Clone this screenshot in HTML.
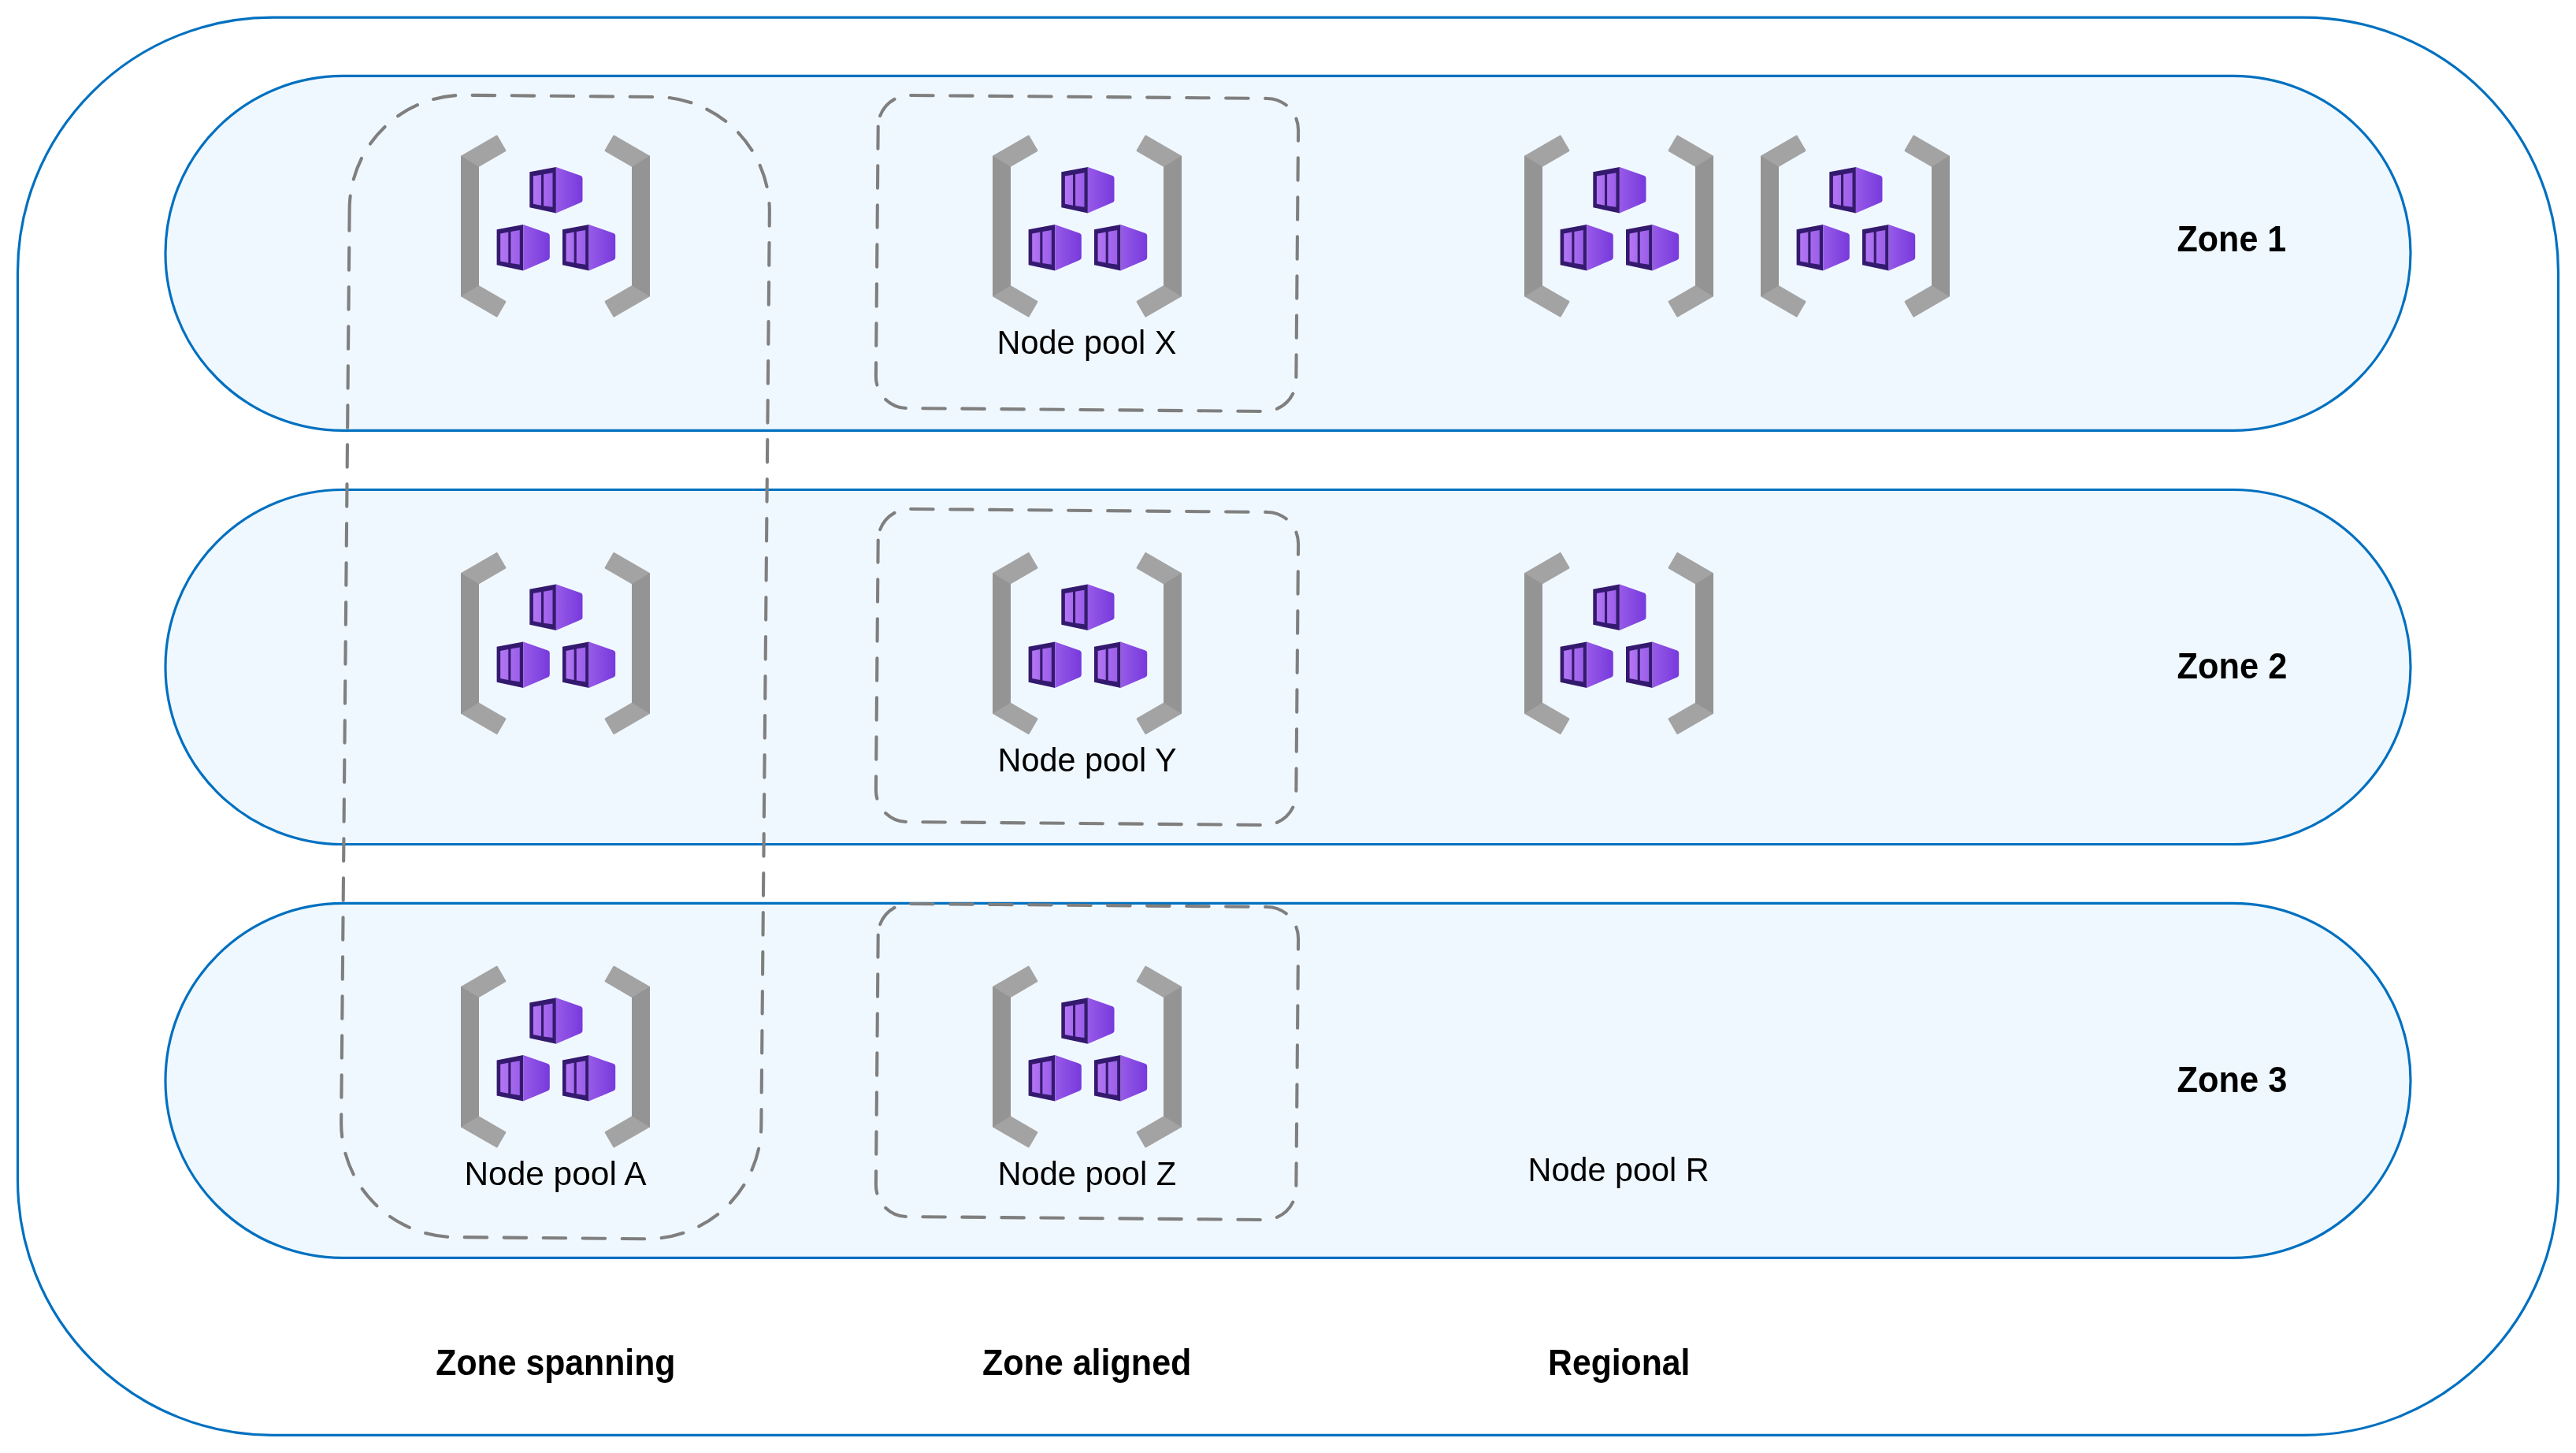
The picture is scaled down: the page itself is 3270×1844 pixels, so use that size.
<!DOCTYPE html><html><head><meta charset="utf-8"><title>AKS node pools</title><style>html,body{margin:0;padding:0;background:#fff;width:3270px;height:1844px;overflow:hidden}svg{display:block}</style></head><body><svg width="3270" height="1844" viewBox="0 0 3270 1844"><defs><linearGradient id="cg" gradientUnits="userSpaceOnUse" x1="-33.6" y1="0" x2="33.6" y2="0"><stop offset="0" stop-color="#B77AF4"/><stop offset="1" stop-color="#773ADC"/></linearGradient></defs><rect x="22.5" y="22.2" width="3225.0" height="1799.1" rx="323" ry="323" fill="#FFFFFF" stroke="#0070C0" stroke-width="3.2"/>
<rect x="210.0" y="96.4" width="2850.0" height="450.0" rx="225.0" ry="225.0" fill="#F0F8FF" stroke="#0070C0" stroke-width="3.2"/>
<rect x="210.0" y="621.5" width="2850.0" height="450.0" rx="225.0" ry="225.0" fill="#F0F8FF" stroke="#0070C0" stroke-width="3.2"/>
<rect x="210.0" y="1146.4" width="2850.0" height="450.0" rx="225.0" ry="225.0" fill="#F0F8FF" stroke="#0070C0" stroke-width="3.2"/>
<path fill="#A3A3A3" d="M585.00,197.80 L629.94,171.85 Q631.07,171.20 631.72,172.33 L642.15,190.37 Q642.80,191.50 641.68,192.15 L608.00,211.70 L608.00,362.30 L641.68,381.85 Q642.80,382.50 642.15,383.63 L631.72,401.67 Q631.07,402.80 629.94,402.15 L585.00,376.20 Z"/>
<polygon fill="#949494" points="585.00,197.80 608.00,211.70 608.00,362.30 585.00,376.20"/>
<path fill="#A3A3A3" d="M825.00,197.80 L780.06,171.85 Q778.93,171.20 778.28,172.33 L767.85,190.37 Q767.20,191.50 768.32,192.15 L802.00,211.70 L802.00,362.30 L768.32,381.85 Q767.20,382.50 767.85,383.63 L778.28,401.67 Q778.93,402.80 780.06,402.15 L825.00,376.20 Z"/>
<polygon fill="#949494" points="825.00,197.80 802.00,211.70 802.00,362.30 825.00,376.20"/>
<g transform="translate(705.90,212.00)"><polygon fill="#341A6E" points="-33.6,6.3 0,0 0,58.5 -33.6,51.3"/><path fill="url(#cg)" d="M0,0 L31.4,11.0 Q33.6,11.8 33.6,14.2 L33.6,41.9 Q33.6,44.2 31.4,45.1 L0,58.5 Z"/><polygon fill="url(#cg)" points="-29.0,11.6 -18.9,9.7 -18.9,48.7 -29.0,46.7"/><polygon fill="url(#cg)" points="-15.8,9.2 -4.4,7.2 -4.4,50.8 -15.8,49.2"/></g>
<g transform="translate(664.20,284.90)"><polygon fill="#341A6E" points="-33.6,6.3 0,0 0,58.5 -33.6,51.3"/><path fill="url(#cg)" d="M0,0 L31.4,11.0 Q33.6,11.8 33.6,14.2 L33.6,41.9 Q33.6,44.2 31.4,45.1 L0,58.5 Z"/><polygon fill="url(#cg)" points="-29.0,11.6 -18.9,9.7 -18.9,48.7 -29.0,46.7"/><polygon fill="url(#cg)" points="-15.8,9.2 -4.4,7.2 -4.4,50.8 -15.8,49.2"/></g>
<g transform="translate(747.60,284.90)"><polygon fill="#341A6E" points="-33.6,6.3 0,0 0,58.5 -33.6,51.3"/><path fill="url(#cg)" d="M0,0 L31.4,11.0 Q33.6,11.8 33.6,14.2 L33.6,41.9 Q33.6,44.2 31.4,45.1 L0,58.5 Z"/><polygon fill="url(#cg)" points="-29.0,11.6 -18.9,9.7 -18.9,48.7 -29.0,46.7"/><polygon fill="url(#cg)" points="-15.8,9.2 -4.4,7.2 -4.4,50.8 -15.8,49.2"/></g>
<path fill="#A3A3A3" d="M1260.00,197.80 L1304.94,171.85 Q1306.07,171.20 1306.72,172.33 L1317.15,190.37 Q1317.80,191.50 1316.68,192.15 L1283.00,211.70 L1283.00,362.30 L1316.68,381.85 Q1317.80,382.50 1317.15,383.63 L1306.72,401.67 Q1306.07,402.80 1304.94,402.15 L1260.00,376.20 Z"/>
<polygon fill="#949494" points="1260.00,197.80 1283.00,211.70 1283.00,362.30 1260.00,376.20"/>
<path fill="#A3A3A3" d="M1500.00,197.80 L1455.06,171.85 Q1453.93,171.20 1453.28,172.33 L1442.85,190.37 Q1442.20,191.50 1443.32,192.15 L1477.00,211.70 L1477.00,362.30 L1443.32,381.85 Q1442.20,382.50 1442.85,383.63 L1453.28,401.67 Q1453.93,402.80 1455.06,402.15 L1500.00,376.20 Z"/>
<polygon fill="#949494" points="1500.00,197.80 1477.00,211.70 1477.00,362.30 1500.00,376.20"/>
<g transform="translate(1380.90,212.00)"><polygon fill="#341A6E" points="-33.6,6.3 0,0 0,58.5 -33.6,51.3"/><path fill="url(#cg)" d="M0,0 L31.4,11.0 Q33.6,11.8 33.6,14.2 L33.6,41.9 Q33.6,44.2 31.4,45.1 L0,58.5 Z"/><polygon fill="url(#cg)" points="-29.0,11.6 -18.9,9.7 -18.9,48.7 -29.0,46.7"/><polygon fill="url(#cg)" points="-15.8,9.2 -4.4,7.2 -4.4,50.8 -15.8,49.2"/></g>
<g transform="translate(1339.20,284.90)"><polygon fill="#341A6E" points="-33.6,6.3 0,0 0,58.5 -33.6,51.3"/><path fill="url(#cg)" d="M0,0 L31.4,11.0 Q33.6,11.8 33.6,14.2 L33.6,41.9 Q33.6,44.2 31.4,45.1 L0,58.5 Z"/><polygon fill="url(#cg)" points="-29.0,11.6 -18.9,9.7 -18.9,48.7 -29.0,46.7"/><polygon fill="url(#cg)" points="-15.8,9.2 -4.4,7.2 -4.4,50.8 -15.8,49.2"/></g>
<g transform="translate(1422.60,284.90)"><polygon fill="#341A6E" points="-33.6,6.3 0,0 0,58.5 -33.6,51.3"/><path fill="url(#cg)" d="M0,0 L31.4,11.0 Q33.6,11.8 33.6,14.2 L33.6,41.9 Q33.6,44.2 31.4,45.1 L0,58.5 Z"/><polygon fill="url(#cg)" points="-29.0,11.6 -18.9,9.7 -18.9,48.7 -29.0,46.7"/><polygon fill="url(#cg)" points="-15.8,9.2 -4.4,7.2 -4.4,50.8 -15.8,49.2"/></g>
<path fill="#A3A3A3" d="M1935.00,197.80 L1979.94,171.85 Q1981.07,171.20 1981.72,172.33 L1992.15,190.37 Q1992.80,191.50 1991.68,192.15 L1958.00,211.70 L1958.00,362.30 L1991.68,381.85 Q1992.80,382.50 1992.15,383.63 L1981.72,401.67 Q1981.07,402.80 1979.94,402.15 L1935.00,376.20 Z"/>
<polygon fill="#949494" points="1935.00,197.80 1958.00,211.70 1958.00,362.30 1935.00,376.20"/>
<path fill="#A3A3A3" d="M2175.00,197.80 L2130.06,171.85 Q2128.93,171.20 2128.28,172.33 L2117.85,190.37 Q2117.20,191.50 2118.32,192.15 L2152.00,211.70 L2152.00,362.30 L2118.32,381.85 Q2117.20,382.50 2117.85,383.63 L2128.28,401.67 Q2128.93,402.80 2130.06,402.15 L2175.00,376.20 Z"/>
<polygon fill="#949494" points="2175.00,197.80 2152.00,211.70 2152.00,362.30 2175.00,376.20"/>
<g transform="translate(2055.90,212.00)"><polygon fill="#341A6E" points="-33.6,6.3 0,0 0,58.5 -33.6,51.3"/><path fill="url(#cg)" d="M0,0 L31.4,11.0 Q33.6,11.8 33.6,14.2 L33.6,41.9 Q33.6,44.2 31.4,45.1 L0,58.5 Z"/><polygon fill="url(#cg)" points="-29.0,11.6 -18.9,9.7 -18.9,48.7 -29.0,46.7"/><polygon fill="url(#cg)" points="-15.8,9.2 -4.4,7.2 -4.4,50.8 -15.8,49.2"/></g>
<g transform="translate(2014.20,284.90)"><polygon fill="#341A6E" points="-33.6,6.3 0,0 0,58.5 -33.6,51.3"/><path fill="url(#cg)" d="M0,0 L31.4,11.0 Q33.6,11.8 33.6,14.2 L33.6,41.9 Q33.6,44.2 31.4,45.1 L0,58.5 Z"/><polygon fill="url(#cg)" points="-29.0,11.6 -18.9,9.7 -18.9,48.7 -29.0,46.7"/><polygon fill="url(#cg)" points="-15.8,9.2 -4.4,7.2 -4.4,50.8 -15.8,49.2"/></g>
<g transform="translate(2097.60,284.90)"><polygon fill="#341A6E" points="-33.6,6.3 0,0 0,58.5 -33.6,51.3"/><path fill="url(#cg)" d="M0,0 L31.4,11.0 Q33.6,11.8 33.6,14.2 L33.6,41.9 Q33.6,44.2 31.4,45.1 L0,58.5 Z"/><polygon fill="url(#cg)" points="-29.0,11.6 -18.9,9.7 -18.9,48.7 -29.0,46.7"/><polygon fill="url(#cg)" points="-15.8,9.2 -4.4,7.2 -4.4,50.8 -15.8,49.2"/></g>
<path fill="#A3A3A3" d="M2235.00,197.80 L2279.94,171.85 Q2281.07,171.20 2281.72,172.33 L2292.15,190.37 Q2292.80,191.50 2291.68,192.15 L2258.00,211.70 L2258.00,362.30 L2291.68,381.85 Q2292.80,382.50 2292.15,383.63 L2281.72,401.67 Q2281.07,402.80 2279.94,402.15 L2235.00,376.20 Z"/>
<polygon fill="#949494" points="2235.00,197.80 2258.00,211.70 2258.00,362.30 2235.00,376.20"/>
<path fill="#A3A3A3" d="M2475.00,197.80 L2430.06,171.85 Q2428.93,171.20 2428.28,172.33 L2417.85,190.37 Q2417.20,191.50 2418.32,192.15 L2452.00,211.70 L2452.00,362.30 L2418.32,381.85 Q2417.20,382.50 2417.85,383.63 L2428.28,401.67 Q2428.93,402.80 2430.06,402.15 L2475.00,376.20 Z"/>
<polygon fill="#949494" points="2475.00,197.80 2452.00,211.70 2452.00,362.30 2475.00,376.20"/>
<g transform="translate(2355.90,212.00)"><polygon fill="#341A6E" points="-33.6,6.3 0,0 0,58.5 -33.6,51.3"/><path fill="url(#cg)" d="M0,0 L31.4,11.0 Q33.6,11.8 33.6,14.2 L33.6,41.9 Q33.6,44.2 31.4,45.1 L0,58.5 Z"/><polygon fill="url(#cg)" points="-29.0,11.6 -18.9,9.7 -18.9,48.7 -29.0,46.7"/><polygon fill="url(#cg)" points="-15.8,9.2 -4.4,7.2 -4.4,50.8 -15.8,49.2"/></g>
<g transform="translate(2314.20,284.90)"><polygon fill="#341A6E" points="-33.6,6.3 0,0 0,58.5 -33.6,51.3"/><path fill="url(#cg)" d="M0,0 L31.4,11.0 Q33.6,11.8 33.6,14.2 L33.6,41.9 Q33.6,44.2 31.4,45.1 L0,58.5 Z"/><polygon fill="url(#cg)" points="-29.0,11.6 -18.9,9.7 -18.9,48.7 -29.0,46.7"/><polygon fill="url(#cg)" points="-15.8,9.2 -4.4,7.2 -4.4,50.8 -15.8,49.2"/></g>
<g transform="translate(2397.60,284.90)"><polygon fill="#341A6E" points="-33.6,6.3 0,0 0,58.5 -33.6,51.3"/><path fill="url(#cg)" d="M0,0 L31.4,11.0 Q33.6,11.8 33.6,14.2 L33.6,41.9 Q33.6,44.2 31.4,45.1 L0,58.5 Z"/><polygon fill="url(#cg)" points="-29.0,11.6 -18.9,9.7 -18.9,48.7 -29.0,46.7"/><polygon fill="url(#cg)" points="-15.8,9.2 -4.4,7.2 -4.4,50.8 -15.8,49.2"/></g>
<path fill="#A3A3A3" d="M585.00,727.30 L629.94,701.35 Q631.07,700.70 631.72,701.83 L642.15,719.87 Q642.80,721.00 641.68,721.65 L608.00,741.20 L608.00,891.80 L641.68,911.35 Q642.80,912.00 642.15,913.13 L631.72,931.17 Q631.07,932.30 629.94,931.65 L585.00,905.70 Z"/>
<polygon fill="#949494" points="585.00,727.30 608.00,741.20 608.00,891.80 585.00,905.70"/>
<path fill="#A3A3A3" d="M825.00,727.30 L780.06,701.35 Q778.93,700.70 778.28,701.83 L767.85,719.87 Q767.20,721.00 768.32,721.65 L802.00,741.20 L802.00,891.80 L768.32,911.35 Q767.20,912.00 767.85,913.13 L778.28,931.17 Q778.93,932.30 780.06,931.65 L825.00,905.70 Z"/>
<polygon fill="#949494" points="825.00,727.30 802.00,741.20 802.00,891.80 825.00,905.70"/>
<g transform="translate(705.90,741.50)"><polygon fill="#341A6E" points="-33.6,6.3 0,0 0,58.5 -33.6,51.3"/><path fill="url(#cg)" d="M0,0 L31.4,11.0 Q33.6,11.8 33.6,14.2 L33.6,41.9 Q33.6,44.2 31.4,45.1 L0,58.5 Z"/><polygon fill="url(#cg)" points="-29.0,11.6 -18.9,9.7 -18.9,48.7 -29.0,46.7"/><polygon fill="url(#cg)" points="-15.8,9.2 -4.4,7.2 -4.4,50.8 -15.8,49.2"/></g>
<g transform="translate(664.20,814.40)"><polygon fill="#341A6E" points="-33.6,6.3 0,0 0,58.5 -33.6,51.3"/><path fill="url(#cg)" d="M0,0 L31.4,11.0 Q33.6,11.8 33.6,14.2 L33.6,41.9 Q33.6,44.2 31.4,45.1 L0,58.5 Z"/><polygon fill="url(#cg)" points="-29.0,11.6 -18.9,9.7 -18.9,48.7 -29.0,46.7"/><polygon fill="url(#cg)" points="-15.8,9.2 -4.4,7.2 -4.4,50.8 -15.8,49.2"/></g>
<g transform="translate(747.60,814.40)"><polygon fill="#341A6E" points="-33.6,6.3 0,0 0,58.5 -33.6,51.3"/><path fill="url(#cg)" d="M0,0 L31.4,11.0 Q33.6,11.8 33.6,14.2 L33.6,41.9 Q33.6,44.2 31.4,45.1 L0,58.5 Z"/><polygon fill="url(#cg)" points="-29.0,11.6 -18.9,9.7 -18.9,48.7 -29.0,46.7"/><polygon fill="url(#cg)" points="-15.8,9.2 -4.4,7.2 -4.4,50.8 -15.8,49.2"/></g>
<path fill="#A3A3A3" d="M1260.00,727.30 L1304.94,701.35 Q1306.07,700.70 1306.72,701.83 L1317.15,719.87 Q1317.80,721.00 1316.68,721.65 L1283.00,741.20 L1283.00,891.80 L1316.68,911.35 Q1317.80,912.00 1317.15,913.13 L1306.72,931.17 Q1306.07,932.30 1304.94,931.65 L1260.00,905.70 Z"/>
<polygon fill="#949494" points="1260.00,727.30 1283.00,741.20 1283.00,891.80 1260.00,905.70"/>
<path fill="#A3A3A3" d="M1500.00,727.30 L1455.06,701.35 Q1453.93,700.70 1453.28,701.83 L1442.85,719.87 Q1442.20,721.00 1443.32,721.65 L1477.00,741.20 L1477.00,891.80 L1443.32,911.35 Q1442.20,912.00 1442.85,913.13 L1453.28,931.17 Q1453.93,932.30 1455.06,931.65 L1500.00,905.70 Z"/>
<polygon fill="#949494" points="1500.00,727.30 1477.00,741.20 1477.00,891.80 1500.00,905.70"/>
<g transform="translate(1380.90,741.50)"><polygon fill="#341A6E" points="-33.6,6.3 0,0 0,58.5 -33.6,51.3"/><path fill="url(#cg)" d="M0,0 L31.4,11.0 Q33.6,11.8 33.6,14.2 L33.6,41.9 Q33.6,44.2 31.4,45.1 L0,58.5 Z"/><polygon fill="url(#cg)" points="-29.0,11.6 -18.9,9.7 -18.9,48.7 -29.0,46.7"/><polygon fill="url(#cg)" points="-15.8,9.2 -4.4,7.2 -4.4,50.8 -15.8,49.2"/></g>
<g transform="translate(1339.20,814.40)"><polygon fill="#341A6E" points="-33.6,6.3 0,0 0,58.5 -33.6,51.3"/><path fill="url(#cg)" d="M0,0 L31.4,11.0 Q33.6,11.8 33.6,14.2 L33.6,41.9 Q33.6,44.2 31.4,45.1 L0,58.5 Z"/><polygon fill="url(#cg)" points="-29.0,11.6 -18.9,9.7 -18.9,48.7 -29.0,46.7"/><polygon fill="url(#cg)" points="-15.8,9.2 -4.4,7.2 -4.4,50.8 -15.8,49.2"/></g>
<g transform="translate(1422.60,814.40)"><polygon fill="#341A6E" points="-33.6,6.3 0,0 0,58.5 -33.6,51.3"/><path fill="url(#cg)" d="M0,0 L31.4,11.0 Q33.6,11.8 33.6,14.2 L33.6,41.9 Q33.6,44.2 31.4,45.1 L0,58.5 Z"/><polygon fill="url(#cg)" points="-29.0,11.6 -18.9,9.7 -18.9,48.7 -29.0,46.7"/><polygon fill="url(#cg)" points="-15.8,9.2 -4.4,7.2 -4.4,50.8 -15.8,49.2"/></g>
<path fill="#A3A3A3" d="M1935.00,727.30 L1979.94,701.35 Q1981.07,700.70 1981.72,701.83 L1992.15,719.87 Q1992.80,721.00 1991.68,721.65 L1958.00,741.20 L1958.00,891.80 L1991.68,911.35 Q1992.80,912.00 1992.15,913.13 L1981.72,931.17 Q1981.07,932.30 1979.94,931.65 L1935.00,905.70 Z"/>
<polygon fill="#949494" points="1935.00,727.30 1958.00,741.20 1958.00,891.80 1935.00,905.70"/>
<path fill="#A3A3A3" d="M2175.00,727.30 L2130.06,701.35 Q2128.93,700.70 2128.28,701.83 L2117.85,719.87 Q2117.20,721.00 2118.32,721.65 L2152.00,741.20 L2152.00,891.80 L2118.32,911.35 Q2117.20,912.00 2117.85,913.13 L2128.28,931.17 Q2128.93,932.30 2130.06,931.65 L2175.00,905.70 Z"/>
<polygon fill="#949494" points="2175.00,727.30 2152.00,741.20 2152.00,891.80 2175.00,905.70"/>
<g transform="translate(2055.90,741.50)"><polygon fill="#341A6E" points="-33.6,6.3 0,0 0,58.5 -33.6,51.3"/><path fill="url(#cg)" d="M0,0 L31.4,11.0 Q33.6,11.8 33.6,14.2 L33.6,41.9 Q33.6,44.2 31.4,45.1 L0,58.5 Z"/><polygon fill="url(#cg)" points="-29.0,11.6 -18.9,9.7 -18.9,48.7 -29.0,46.7"/><polygon fill="url(#cg)" points="-15.8,9.2 -4.4,7.2 -4.4,50.8 -15.8,49.2"/></g>
<g transform="translate(2014.20,814.40)"><polygon fill="#341A6E" points="-33.6,6.3 0,0 0,58.5 -33.6,51.3"/><path fill="url(#cg)" d="M0,0 L31.4,11.0 Q33.6,11.8 33.6,14.2 L33.6,41.9 Q33.6,44.2 31.4,45.1 L0,58.5 Z"/><polygon fill="url(#cg)" points="-29.0,11.6 -18.9,9.7 -18.9,48.7 -29.0,46.7"/><polygon fill="url(#cg)" points="-15.8,9.2 -4.4,7.2 -4.4,50.8 -15.8,49.2"/></g>
<g transform="translate(2097.60,814.40)"><polygon fill="#341A6E" points="-33.6,6.3 0,0 0,58.5 -33.6,51.3"/><path fill="url(#cg)" d="M0,0 L31.4,11.0 Q33.6,11.8 33.6,14.2 L33.6,41.9 Q33.6,44.2 31.4,45.1 L0,58.5 Z"/><polygon fill="url(#cg)" points="-29.0,11.6 -18.9,9.7 -18.9,48.7 -29.0,46.7"/><polygon fill="url(#cg)" points="-15.8,9.2 -4.4,7.2 -4.4,50.8 -15.8,49.2"/></g>
<path fill="#A3A3A3" d="M585.00,1252.00 L629.94,1226.05 Q631.07,1225.40 631.72,1226.53 L642.15,1244.57 Q642.80,1245.70 641.68,1246.35 L608.00,1265.90 L608.00,1416.50 L641.68,1436.05 Q642.80,1436.70 642.15,1437.83 L631.72,1455.87 Q631.07,1457.00 629.94,1456.35 L585.00,1430.40 Z"/>
<polygon fill="#949494" points="585.00,1252.00 608.00,1265.90 608.00,1416.50 585.00,1430.40"/>
<path fill="#A3A3A3" d="M825.00,1252.00 L780.06,1226.05 Q778.93,1225.40 778.28,1226.53 L767.85,1244.57 Q767.20,1245.70 768.32,1246.35 L802.00,1265.90 L802.00,1416.50 L768.32,1436.05 Q767.20,1436.70 767.85,1437.83 L778.28,1455.87 Q778.93,1457.00 780.06,1456.35 L825.00,1430.40 Z"/>
<polygon fill="#949494" points="825.00,1252.00 802.00,1265.90 802.00,1416.50 825.00,1430.40"/>
<g transform="translate(705.90,1266.20)"><polygon fill="#341A6E" points="-33.6,6.3 0,0 0,58.5 -33.6,51.3"/><path fill="url(#cg)" d="M0,0 L31.4,11.0 Q33.6,11.8 33.6,14.2 L33.6,41.9 Q33.6,44.2 31.4,45.1 L0,58.5 Z"/><polygon fill="url(#cg)" points="-29.0,11.6 -18.9,9.7 -18.9,48.7 -29.0,46.7"/><polygon fill="url(#cg)" points="-15.8,9.2 -4.4,7.2 -4.4,50.8 -15.8,49.2"/></g>
<g transform="translate(664.20,1339.10)"><polygon fill="#341A6E" points="-33.6,6.3 0,0 0,58.5 -33.6,51.3"/><path fill="url(#cg)" d="M0,0 L31.4,11.0 Q33.6,11.8 33.6,14.2 L33.6,41.9 Q33.6,44.2 31.4,45.1 L0,58.5 Z"/><polygon fill="url(#cg)" points="-29.0,11.6 -18.9,9.7 -18.9,48.7 -29.0,46.7"/><polygon fill="url(#cg)" points="-15.8,9.2 -4.4,7.2 -4.4,50.8 -15.8,49.2"/></g>
<g transform="translate(747.60,1339.10)"><polygon fill="#341A6E" points="-33.6,6.3 0,0 0,58.5 -33.6,51.3"/><path fill="url(#cg)" d="M0,0 L31.4,11.0 Q33.6,11.8 33.6,14.2 L33.6,41.9 Q33.6,44.2 31.4,45.1 L0,58.5 Z"/><polygon fill="url(#cg)" points="-29.0,11.6 -18.9,9.7 -18.9,48.7 -29.0,46.7"/><polygon fill="url(#cg)" points="-15.8,9.2 -4.4,7.2 -4.4,50.8 -15.8,49.2"/></g>
<path fill="#A3A3A3" d="M1260.00,1252.00 L1304.94,1226.05 Q1306.07,1225.40 1306.72,1226.53 L1317.15,1244.57 Q1317.80,1245.70 1316.68,1246.35 L1283.00,1265.90 L1283.00,1416.50 L1316.68,1436.05 Q1317.80,1436.70 1317.15,1437.83 L1306.72,1455.87 Q1306.07,1457.00 1304.94,1456.35 L1260.00,1430.40 Z"/>
<polygon fill="#949494" points="1260.00,1252.00 1283.00,1265.90 1283.00,1416.50 1260.00,1430.40"/>
<path fill="#A3A3A3" d="M1500.00,1252.00 L1455.06,1226.05 Q1453.93,1225.40 1453.28,1226.53 L1442.85,1244.57 Q1442.20,1245.70 1443.32,1246.35 L1477.00,1265.90 L1477.00,1416.50 L1443.32,1436.05 Q1442.20,1436.70 1442.85,1437.83 L1453.28,1455.87 Q1453.93,1457.00 1455.06,1456.35 L1500.00,1430.40 Z"/>
<polygon fill="#949494" points="1500.00,1252.00 1477.00,1265.90 1477.00,1416.50 1500.00,1430.40"/>
<g transform="translate(1380.90,1266.20)"><polygon fill="#341A6E" points="-33.6,6.3 0,0 0,58.5 -33.6,51.3"/><path fill="url(#cg)" d="M0,0 L31.4,11.0 Q33.6,11.8 33.6,14.2 L33.6,41.9 Q33.6,44.2 31.4,45.1 L0,58.5 Z"/><polygon fill="url(#cg)" points="-29.0,11.6 -18.9,9.7 -18.9,48.7 -29.0,46.7"/><polygon fill="url(#cg)" points="-15.8,9.2 -4.4,7.2 -4.4,50.8 -15.8,49.2"/></g>
<g transform="translate(1339.20,1339.10)"><polygon fill="#341A6E" points="-33.6,6.3 0,0 0,58.5 -33.6,51.3"/><path fill="url(#cg)" d="M0,0 L31.4,11.0 Q33.6,11.8 33.6,14.2 L33.6,41.9 Q33.6,44.2 31.4,45.1 L0,58.5 Z"/><polygon fill="url(#cg)" points="-29.0,11.6 -18.9,9.7 -18.9,48.7 -29.0,46.7"/><polygon fill="url(#cg)" points="-15.8,9.2 -4.4,7.2 -4.4,50.8 -15.8,49.2"/></g>
<g transform="translate(1422.60,1339.10)"><polygon fill="#341A6E" points="-33.6,6.3 0,0 0,58.5 -33.6,51.3"/><path fill="url(#cg)" d="M0,0 L31.4,11.0 Q33.6,11.8 33.6,14.2 L33.6,41.9 Q33.6,44.2 31.4,45.1 L0,58.5 Z"/><polygon fill="url(#cg)" points="-29.0,11.6 -18.9,9.7 -18.9,48.7 -29.0,46.7"/><polygon fill="url(#cg)" points="-15.8,9.2 -4.4,7.2 -4.4,50.8 -15.8,49.2"/></g>
<g transform="translate(705.00,846.50) rotate(0.52)"><path d="M-266.60,-579.65 A145,145 0 0 1 -121.60,-724.65 H121.60 A145,145 0 0 1 266.60,-579.65 V579.65 A145,145 0 0 1 121.60,724.65 H-121.60 A145,145 0 0 1 -266.60,579.65 Z" fill="none" stroke="#7F7F7F" stroke-width="4.1" stroke-linecap="round" stroke-dasharray="28.5 21.5" stroke-dashoffset="12.63"/></g>
<g transform="translate(1380.00,321.50) rotate(0.5)"><path d="M-266.70,-158.55 A40,40 0 0 1 -226.70,-198.55 H226.70 A40,40 0 0 1 266.70,-158.55 V158.55 A40,40 0 0 1 226.70,198.55 H-226.70 A40,40 0 0 1 -266.70,158.55 Z" fill="none" stroke="#7F7F7F" stroke-width="4.1" stroke-linecap="round" stroke-dasharray="28.5 21.5" stroke-dashoffset="36.17"/></g>
<g transform="translate(1380.00,846.50) rotate(0.5)"><path d="M-266.70,-158.55 A40,40 0 0 1 -226.70,-198.55 H226.70 A40,40 0 0 1 266.70,-158.55 V158.55 A40,40 0 0 1 226.70,198.55 H-226.70 A40,40 0 0 1 -266.70,158.55 Z" fill="none" stroke="#7F7F7F" stroke-width="4.1" stroke-linecap="round" stroke-dasharray="28.5 21.5" stroke-dashoffset="36.17"/></g>
<g transform="translate(1380.00,1347.50) rotate(0.5)"><path d="M-266.70,-158.55 A40,40 0 0 1 -226.70,-198.55 H226.70 A40,40 0 0 1 266.70,-158.55 V158.55 A40,40 0 0 1 226.70,198.55 H-226.70 A40,40 0 0 1 -266.70,158.55 Z" fill="none" stroke="#7F7F7F" stroke-width="4.1" stroke-linecap="round" stroke-dasharray="28.5 21.5" stroke-dashoffset="36.17"/></g>
<g fill="#000" style="font-family:'Liberation Sans',sans-serif;filter:grayscale(1)">
<text x="2763.52" y="319.10" font-size="46" font-weight="bold" textLength="138.74" lengthAdjust="spacingAndGlyphs">Zone 1</text>
<text x="2763.50" y="860.90" font-size="46" font-weight="bold" textLength="139.91" lengthAdjust="spacingAndGlyphs">Zone 2</text>
<text x="2763.50" y="1386.00" font-size="46" font-weight="bold" textLength="139.81" lengthAdjust="spacingAndGlyphs">Zone 3</text>
<text x="553.33" y="1744.90" font-size="46" font-weight="bold" textLength="304.15" lengthAdjust="spacingAndGlyphs">Zone spanning</text>
<text x="1246.90" y="1744.60" font-size="46" font-weight="bold" textLength="265.49" lengthAdjust="spacingAndGlyphs">Zone aligned</text>
<text x="1965.06" y="1744.70" font-size="46" font-weight="bold" textLength="180.33" lengthAdjust="spacingAndGlyphs">Regional</text>
<text x="1265.52" y="449.20" font-size="42.6" font-weight="normal" textLength="227.78" lengthAdjust="spacingAndGlyphs">Node pool X</text>
<text x="1266.52" y="979.20" font-size="42.6" font-weight="normal" textLength="227.01" lengthAdjust="spacingAndGlyphs">Node pool Y</text>
<text x="1266.50" y="1504.00" font-size="42.6" font-weight="normal" textLength="226.61" lengthAdjust="spacingAndGlyphs">Node pool Z</text>
<text x="589.42" y="1504.00" font-size="42.6" font-weight="normal" textLength="231.17" lengthAdjust="spacingAndGlyphs">Node pool A</text>
<text x="1939.52" y="1499.20" font-size="42.6" font-weight="normal" textLength="230.10" lengthAdjust="spacingAndGlyphs">Node pool R</text>
</g></svg></body></html>
